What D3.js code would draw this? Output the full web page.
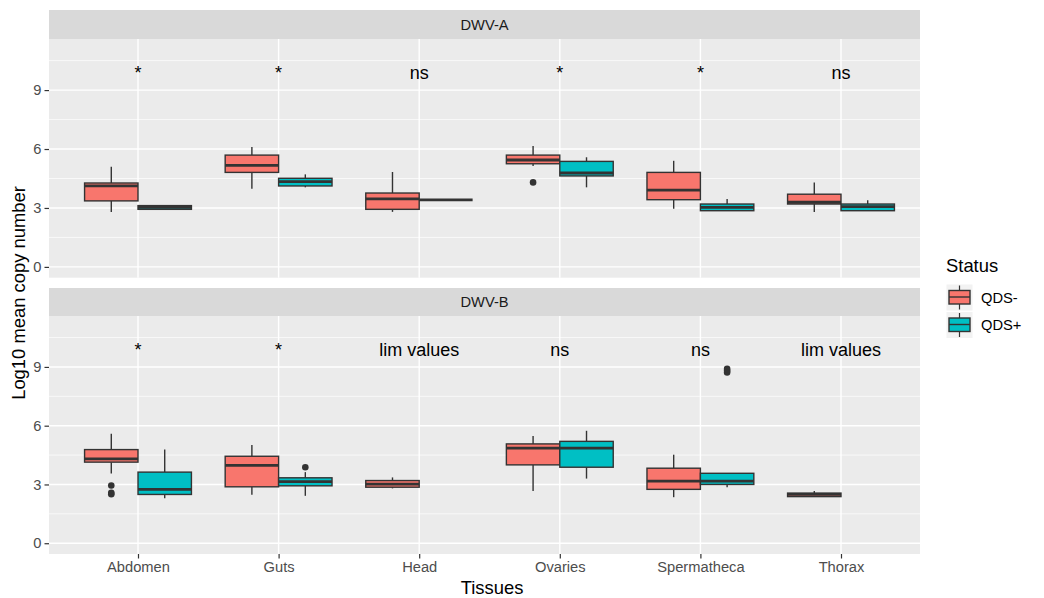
<!DOCTYPE html>
<html>
<head>
<meta charset="utf-8">
<script src="https://cdn.jsdelivr.net/npm/d3@7"></script>
<style>
  html, body { margin: 0; padding: 0; background: #ffffff; }
  svg { display: block; font-family: "Liberation Sans", Arial, sans-serif; }
</style>
</head>
<body>
<svg id="chart" width="1044" height="598"></svg>
<script>
// ---------- data ----------
const tissues = ["Abdomen", "Guts", "Head", "Ovaries", "Spermatheca", "Thorax"];
const statuses = ["QDS-", "QDS+"];
const facets = ["DWV-A", "DWV-B"];
const yTicks = [0, 3, 6, 9];
const yMinor = [1.5, 4.5, 7.5, 10.5];

// box stats per tissue: [lower whisker, q1, median, q3, upper whisker]; null = no data
const dwvA_minus = [
  [2.80, 3.36, 4.12, 4.27, 5.10],
  [3.98, 4.81, 5.17, 5.69, 6.10],
  [2.80, 2.93, 3.46, 3.76, 4.83],
  [5.13, 5.25, 5.44, 5.69, 6.15],
  [2.96, 3.42, 3.91, 4.81, 5.40],
  [2.80, 3.20, 3.29, 3.70, 4.29]
];
const dwvA_plus = [
  [2.93, 2.93, 3.03, 3.12, 3.12],
  [4.05, 4.12, 4.34, 4.51, 4.71],
  [3.41, 3.41, 3.41, 3.41, 3.41],
  [4.05, 4.63, 4.78, 5.37, 5.58],
  [2.86, 2.86, 3.03, 3.20, 3.46],
  [2.86, 2.86, 3.07, 3.20, 3.39]
];
const dwvB_minus = [
  [3.56, 4.14, 4.31, 4.78, 5.59],
  [2.47, 2.88, 3.97, 4.44, 5.02],
  [2.80, 2.86, 3.02, 3.20, 3.36],
  [2.66, 4.00, 4.85, 5.07, 5.47],
  [2.35, 2.75, 3.17, 3.83, 4.52],
  [2.38, 2.38, 2.49, 2.56, 2.66]
];
const dwvB_plus = [
  [2.30, 2.49, 2.75, 3.63, 4.78],
  [2.42, 2.93, 3.14, 3.34, 3.63],
  null,
  [3.30, 3.88, 4.85, 5.20, 5.74],
  [2.86, 3.00, 3.17, 3.57, 3.57],
  null
];
// outliers per tissue
const dwvA_minus_out = [[], [], [], [4.30], [], []];
const dwvA_plus_out  = [[], [], [], [], [], []];
const dwvB_minus_out = [[2.95, 2.58, 2.50], [], [], [], [], []];
const dwvB_plus_out  = [[], [3.88], [], [], [8.72, 8.80, 8.90], []];
// significance labels
const labelsA = ["*", "*", "ns", "*", "*", "ns"];
const labelsB = ["*", "*", "lim values", "ns", "ns", "lim values"];
const labelY = 10;

const colors = ["#F8766D", "#00BFC4"];

// ---------- layout ----------
const svg = d3.select("#chart");
const panelLeft = 49, panelRight = 920;
const panels = [
  { name: facets[0], stripTop: 10, top: 39, bottom: 277.7,
    series: [dwvA_minus, dwvA_plus], outs: [dwvA_minus_out, dwvA_plus_out], labels: labelsA },
  { name: facets[1], stripTop: 288, top: 316, bottom: 554,
    series: [dwvB_minus, dwvB_plus], outs: [dwvB_minus_out, dwvB_plus_out], labels: labelsB }
];

const x = d3.scalePoint().domain(tissues).range([138, 841]);
const dodge = x.step() * 0.76;
const boxW = dodge / 2;
const xs = d3.scaleBand().domain(statuses).range([-dodge / 2, dodge / 2]);

const outline = "#333333";

panels.forEach((p, pi) => {
  const y = d3.scaleLinear().domain([-0.55, 11.6]).range([p.bottom, p.top]);
  const g = svg.append("g");

  // strip
  g.append("rect").attr("x", panelLeft).attr("y", p.stripTop)
    .attr("width", panelRight - panelLeft).attr("height", p.top - p.stripTop)
    .attr("fill", "#D9D9D9");
  g.append("text").attr("x", (panelLeft + panelRight) / 2).attr("y", (p.stripTop + p.top) / 2 + 5)
    .attr("text-anchor", "middle").attr("font-size", 14.7).attr("fill", "#1A1A1A").text(p.name);

  // panel background
  g.append("rect").attr("x", panelLeft).attr("y", p.top)
    .attr("width", panelRight - panelLeft).attr("height", p.bottom - p.top)
    .attr("fill", "#EBEBEB");

  // grid
  g.selectAll(".minor").data(yMinor).enter().append("line")
    .attr("x1", panelLeft).attr("x2", panelRight)
    .attr("y1", d => y(d)).attr("y2", d => y(d))
    .attr("stroke", "#ffffff").attr("stroke-width", 0.7);
  g.selectAll(".major").data(yTicks).enter().append("line")
    .attr("x1", panelLeft).attr("x2", panelRight)
    .attr("y1", d => y(d)).attr("y2", d => y(d))
    .attr("stroke", "#ffffff").attr("stroke-width", 1.4);
  g.selectAll(".vmajor").data(tissues).enter().append("line")
    .attr("x1", d => x(d)).attr("x2", d => x(d))
    .attr("y1", p.top).attr("y2", p.bottom)
    .attr("stroke", "#ffffff").attr("stroke-width", 1.4);

  // y axis
  const yAxis = d3.axisLeft(y).tickValues(yTicks).tickSize(4.5).tickPadding(3);
  const ya = g.append("g").attr("transform", `translate(${panelLeft},0)`).call(yAxis);
  ya.select(".domain").remove();
  ya.selectAll(".tick line").attr("stroke", "#333333").attr("stroke-width", 1.2);
  ya.selectAll(".tick text").attr("fill", "#4D4D4D").attr("font-size", 14.7)
    .attr("font-family", "Liberation Sans, Arial, sans-serif");

  // boxes
  p.series.forEach((ser, si) => {
    tissues.forEach((t, ti) => {
      const s = ser[ti];
      if (!s) return;
      const cx = x(t) + xs(statuses[si]) + boxW / 2;
      const bg = g.append("g");
      // whiskers
      bg.append("line").attr("x1", cx).attr("x2", cx)
        .attr("y1", y(s[4])).attr("y2", y(s[3]))
        .attr("stroke", outline).attr("stroke-width", 1.4);
      bg.append("line").attr("x1", cx).attr("x2", cx)
        .attr("y1", y(s[1])).attr("y2", y(s[0]))
        .attr("stroke", outline).attr("stroke-width", 1.4);
      // box
      bg.append("rect").attr("x", cx - boxW / 2).attr("y", y(s[3]))
        .attr("width", boxW).attr("height", Math.max(0, y(s[1]) - y(s[3])))
        .attr("fill", colors[si]).attr("stroke", outline).attr("stroke-width", 1.4);
      // median
      bg.append("line").attr("x1", cx - boxW / 2).attr("x2", cx + boxW / 2)
        .attr("y1", y(s[2])).attr("y2", y(s[2]))
        .attr("stroke", outline).attr("stroke-width", 2.8);
      // outliers
      bg.selectAll("circle").data(p.outs[si][ti]).enter().append("circle")
        .attr("cx", cx).attr("cy", d => y(d)).attr("r", 3.3).attr("fill", outline);
    });
  });

  // labels
  g.selectAll(".lab").data(p.labels).enter().append("text")
    .attr("x", (d, i) => x(tissues[i]))
    .attr("y", y(labelY) + 8.3)
    .attr("text-anchor", "middle").attr("font-size", 18).attr("fill", "#000000")
    .text(d => d);

  // x axis only on bottom panel
  if (pi === panels.length - 1) {
    const xAxis = d3.axisBottom(x).tickSize(4.5).tickPadding(3);
    const xa = g.append("g").attr("transform", `translate(0,${p.bottom})`).call(xAxis);
    xa.select(".domain").remove();
    xa.selectAll(".tick line").attr("stroke", "#333333").attr("stroke-width", 1.2);
    xa.selectAll(".tick text").attr("fill", "#4D4D4D").attr("font-size", 14.7)
      .attr("font-family", "Liberation Sans, Arial, sans-serif");
  }
});

// axis titles
svg.append("text").attr("x", 492).attr("y", 594).attr("text-anchor", "middle")
  .attr("font-size", 18.4).attr("fill", "#000").text("Tissues");
svg.append("text").attr("transform", "translate(25,293) rotate(-90)")
  .attr("text-anchor", "middle").attr("font-size", 18.4).attr("fill", "#000")
  .text("Log10 mean copy number");

// legend
const lg = svg.append("g");
lg.append("text").attr("x", 946).attr("y", 272).attr("font-size", 18.4).attr("fill", "#000").text("Status");
statuses.forEach((s, i) => {
  const ky = 284.5 + i * 27.5;
  const kx = 946.5;
  const k = lg.append("g");
  k.append("rect").attr("x", kx).attr("y", ky).attr("width", 26).attr("height", 26).attr("fill", "#F2F2F2");
  k.append("line").attr("x1", kx + 13).attr("x2", kx + 13).attr("y1", ky + 1).attr("y2", ky + 25)
    .attr("stroke", outline).attr("stroke-width", 1.2);
  k.append("rect").attr("x", kx + 2.5).attr("y", ky + 6).attr("width", 21).attr("height", 13.5)
    .attr("fill", colors[i]).attr("stroke", outline).attr("stroke-width", 1.4);
  k.append("line").attr("x1", kx + 2.5).attr("x2", kx + 23.5).attr("y1", ky + 12.5).attr("y2", ky + 12.5)
    .attr("stroke", outline).attr("stroke-width", 1.4);
  lg.append("text").attr("x", 981).attr("y", ky + 13 + 5.2).attr("font-size", 14.7).attr("fill", "#000").text(s);
});
</script>
</body>
</html>
